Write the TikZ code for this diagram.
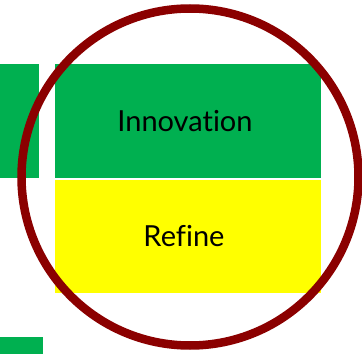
\documentclass[tikz,border=0pt]{standalone}
\usepackage{fontspec}
\setmainfont{Lato}[Ligatures={NoCommon,NoContextual}]
\definecolor{offgreen}{RGB}{0,176,80}
\definecolor{pureyellow}{RGB}{255,255,0}
\definecolor{ringred}{RGB}{139,0,0}
\begin{document}
\begin{tikzpicture}[x=1pt,y=1pt,
  block/.style={anchor=south west,inner sep=0pt,outer sep=0pt},
  label/.style={font=\fontsize{29}{32}\selectfont,text=black}]
\useasboundingbox (0,0) rectangle (362,354);
\node[block,fill=offgreen,minimum width=39pt,minimum height=114pt] (lg) at (0,176) {};
\node[block,fill=offgreen,minimum width=266pt,minimum height=114pt] (innov) at (55,176) {};
\node[block,fill=pureyellow,minimum width=266pt,minimum height=113pt] (refine) at (55,61) {};
\node[block,fill=offgreen,minimum width=43pt,minimum height=17pt] (bl) at (0,0) {};
\node[label] (t1) at ([xshift=-3pt]innov.center) {Innovation};
\node[label] (t2) at ([xshift=-4pt]refine.center) {Refine};
\node[draw=ringred,line width=8.5pt,circle,minimum size=337pt,inner sep=0pt] (ring) at (190,177) {};
\end{tikzpicture}
\end{document}
